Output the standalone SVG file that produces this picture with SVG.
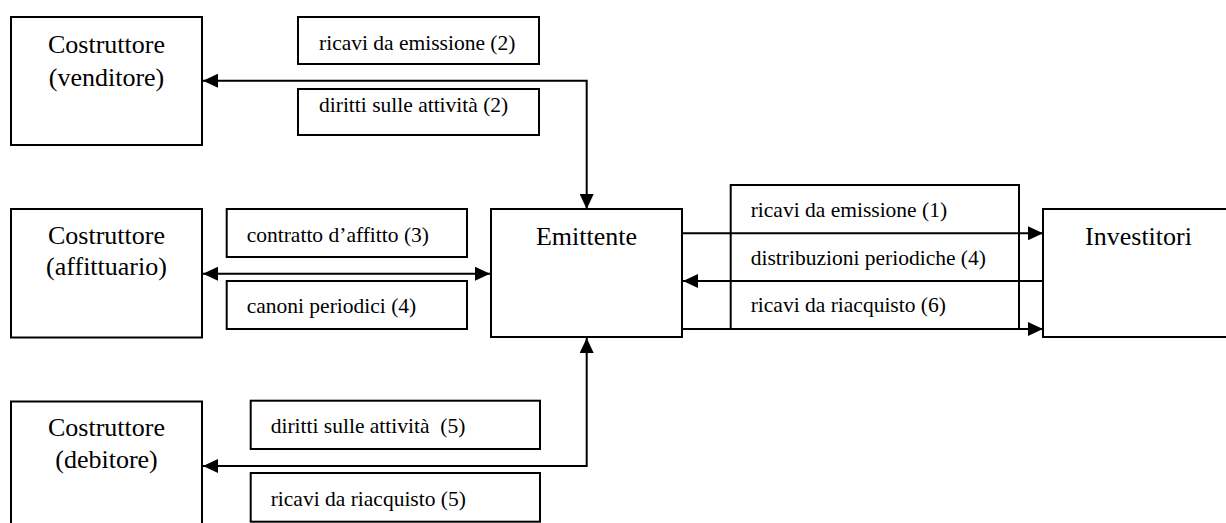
<svg xmlns="http://www.w3.org/2000/svg" width="1226" height="523" viewBox="0 0 1226 523" font-family="Liberation Serif, serif">
<style>
.box{fill:#fff;stroke:#000;stroke-width:2}
.nt{font-size:26px;text-anchor:middle;fill:#000}
.lt{font-size:21.5px;fill:#000;white-space:pre}
.conn{fill:none;stroke:#000;stroke-width:2}
</style>
<defs>
<marker id="ah" viewBox="0 0 15 14" refX="15" refY="7" markerWidth="15" markerHeight="14" markerUnits="userSpaceOnUse" orient="auto-start-reverse">
<path d="M0,0 L15,7 L0,14 z" fill="#000"/>
</marker>
</defs>
<rect width="1226" height="523" fill="#fff"/>
<g id="venditore"><rect class="box" x="11" y="17" width="191" height="128"/><text class="nt" font-family="Liberation Serif" x="106.5" y="52.7">Costruttore</text><text class="nt" font-family="Liberation Serif" x="106.5" y="86">(venditore)</text></g>
<g id="affittuario"><rect class="box" x="11" y="209" width="191" height="128.5"/><text class="nt" font-family="Liberation Serif" x="106.5" y="244">Costruttore</text><text class="nt" font-family="Liberation Serif" x="106.5" y="275">(affittuario)</text></g>
<g id="debitore"><rect class="box" x="11" y="401.5" width="191" height="130"/><text class="nt" font-family="Liberation Serif" x="106.5" y="436">Costruttore</text><text class="nt" font-family="Liberation Serif" x="106.5" y="468">(debitore)</text></g>
<g id="emittente"><rect class="box" x="491" y="209" width="191" height="128"/><text class="nt" font-family="Liberation Serif" x="586.5" y="245">Emittente</text></g>
<g id="investitori"><rect class="box" x="1043" y="209" width="191" height="128"/><text class="nt" font-family="Liberation Serif" x="1138.5" y="245">Investitori</text></g>
<g id="lbl-ricavi-2"><rect class="box" x="298" y="17" width="241" height="47"/><text class="lt" font-family="Liberation Serif" x="319" y="49.5">ricavi da emissione (2)</text></g>
<g id="lbl-diritti-2"><rect class="box" x="298" y="89" width="241" height="46"/><text class="lt" font-family="Liberation Serif" x="319" y="111.5">diritti sulle attività (2)</text></g>
<g id="lbl-contratto-3"><rect class="box" x="226.7" y="209" width="240.3" height="48"/><text class="lt" font-family="Liberation Serif" x="246.7" y="241.7">contratto d’affitto (3)</text></g>
<g id="lbl-canoni-4"><rect class="box" x="226.7" y="281" width="240.3" height="48"/><text class="lt" font-family="Liberation Serif" x="246.7" y="313">canoni periodici (4)</text></g>
<g id="lbl-diritti-5"><rect class="box" x="250.7" y="400.7" width="289.3" height="48.3"/><text class="lt" font-family="Liberation Serif" x="270.7" y="433">diritti sulle attività  (5)</text></g>
<g id="lbl-ricavi-5"><rect class="box" x="250.7" y="473" width="289.3" height="48.7"/><text class="lt" font-family="Liberation Serif" x="270.7" y="505.5">ricavi da riacquisto (5)</text></g>
<g id="lbl-investitori"><rect class="box" x="730.7" y="185" width="288.3" height="144"/><text class="lt" font-family="Liberation Serif" x="750.7" y="216.7">ricavi da emissione (1)</text><text class="lt" font-family="Liberation Serif" x="750.7" y="265">distribuzioni periodiche (4)</text><text class="lt" font-family="Liberation Serif" x="750.7" y="311.7">ricavi da riacquisto (6)</text></g>
<g id="connectors">
<path class="conn" d="M586.7,209 V80.7 H203" marker-start="url(#ah)" marker-end="url(#ah)"/>
<path class="conn" d="M203,273.7 H490" marker-start="url(#ah)" marker-end="url(#ah)"/>
<path class="conn" d="M586.7,338 V466 H203" marker-start="url(#ah)" marker-end="url(#ah)"/>
<path class="conn" d="M682,233.3 H1043" marker-end="url(#ah)"/>
<path class="conn" d="M1043,281 H683" marker-end="url(#ah)"/>
<path class="conn" d="M682,329 H1043" marker-end="url(#ah)"/>
</g>
</svg>
